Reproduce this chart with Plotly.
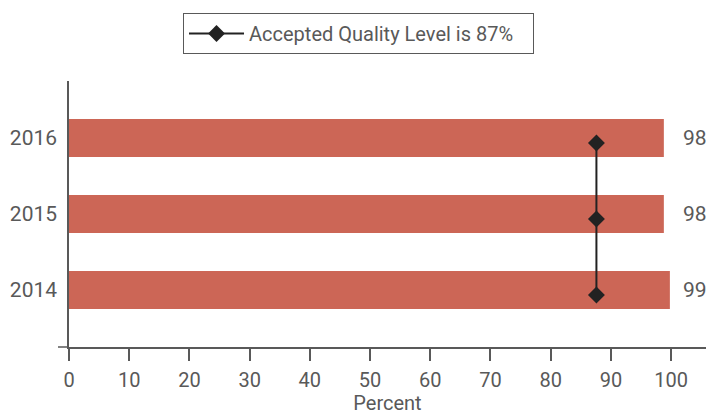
import plotly.graph_objects as go

years = ["2014", "2015", "2016"]
percent = [99.8, 98.8, 98.8]
percent_labels = ["99", "98", "98"]
aql_value = 87.6
aql_name = "Accepted Quality Level is 87%"

FONT = "Roboto, sans-serif"
GRAY = "#595959"
BAR = "#CC6656"

pos = list(range(len(years)))
marker_offset = -0.066

fig = go.Figure()
fig.add_trace(go.Bar(
    x=percent, y=pos, orientation="h", width=0.5,
    marker=dict(color=BAR, line=dict(width=0)),
    showlegend=False, hoverinfo="x",
))
fig.add_trace(go.Scatter(
    x=[aql_value] * len(years), y=[p + marker_offset for p in pos],
    mode="lines+markers", name=aql_name,
    line=dict(color="#222222", width=2),
    marker=dict(symbol="diamond", size=13, color="#222222"),
))

# value labels sit in a right-aligned column at the plot's right edge
for p, lab in zip(pos, percent_labels):
    fig.add_annotation(x=1, xref="paper", y=p, text=lab, showarrow=False, xanchor="right",
                       xshift=3, font=dict(family=FONT, size=21, color=GRAY))

fig.add_shape(type="line", xref="paper", yref="paper", x0=-11/637, x1=0, y0=0, y1=0,
              line=dict(color=GRAY, width=1.5))

fig.update_layout(
    width=709, height=415,
    margin=dict(l=69, r=3, t=81, b=68, autoexpand=False),
    paper_bgcolor="white", plot_bgcolor="white",
    font=dict(family=FONT, color=GRAY, size=21),
    legend=dict(orientation="h", x=0.4545, xanchor="center", y=1.2556, yanchor="top",
                bordercolor=GRAY, borderwidth=1, font=dict(size=20, color=GRAY),
                itemwidth=55, entrywidth=279),
    xaxis=dict(range=[0, 105.8], tickvals=list(range(0, 101, 10)),
               showgrid=False, zeroline=False, showline=True, linecolor=GRAY, linewidth=1.5,
               ticks="outside", ticklen=12, tickcolor=GRAY, tickwidth=1.5,
               tickfont=dict(size=20, color=GRAY), ticklabelstandoff=2,
               title=dict(text="Percent", font=dict(size=20, color=GRAY), standoff=3)),
    yaxis=dict(range=[-0.75, 2.75], tickvals=pos, ticktext=years,
               showgrid=False, zeroline=False, showline=True, linecolor=GRAY, linewidth=1.5,
               ticks="", tickfont=dict(size=21, color=GRAY), ticklabelstandoff=6),
)

fig.write_html("out.html", config={"displayModeBar": False},
               post_script="document.body.style.margin='0';document.body.style.overflow='hidden';")
